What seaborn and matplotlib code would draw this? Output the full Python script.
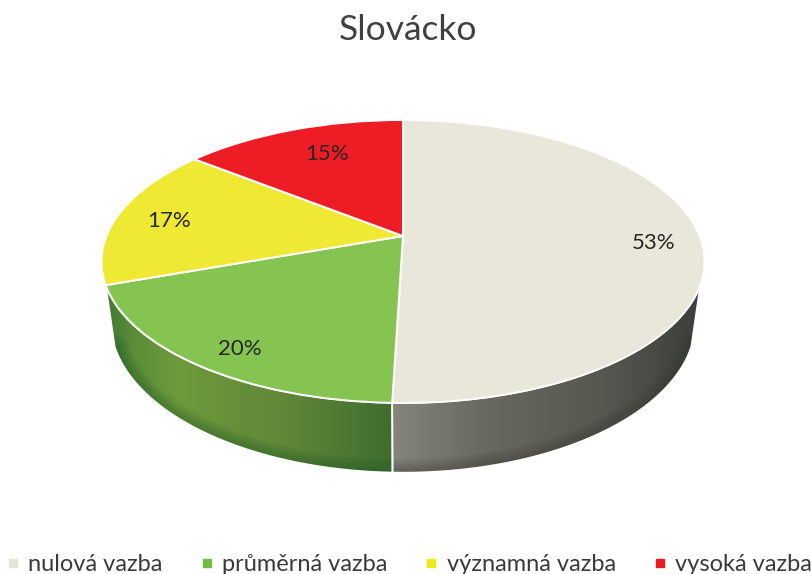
import numpy as np
import matplotlib
matplotlib.use('Agg')
import matplotlib.pyplot as plt
from matplotlib.colors import LinearSegmentedColormap
from matplotlib.lines import Line2D
from matplotlib.patches import Polygon
from matplotlib.transforms import Transform
import seaborn as sns

title = 'Slovácko'
categories = ['nulová vazba', 'průměrná vazba', 'významná vazba', 'vysoká vazba']
values = [53, 20, 17, 15]
colors = ['#e8e7da', '#85c451', '#efe933', '#ee1c25']
legend_colors = ['#e3e4d4', '#6fbf44', '#f0e817', '#ea1c24']
label_pos = [(654, 243), (240, 349), (169, 221), (327, 154)]

# look of the tilted disc, in pixels
cx, cy = 403, 236
tilt = 0.18
x_scale = 296.6
y_scale = 136.9


def project(xy):
    xy = np.asarray(xy, dtype=float)
    w = 1 + tilt * xy[:, 1]
    return np.column_stack([cx + x_scale * xy[:, 0] / w, cy - y_scale * xy[:, 1] / w])


class Tilted(Transform):
    input_dims = 2
    output_dims = 2
    is_affine = False

    def transform_non_affine(self, values):
        return project(values)


def rim(t1, t2, lower=False):
    t = np.radians(np.linspace(t1, t2, 80))
    pts = project(np.column_stack([np.cos(t), np.sin(t)]))
    if lower:
        pts[:, 0] = cx + (pts[:, 0] - cx) * 0.97
        pts[:, 1] = cy + (pts[:, 1] - cy) * 1.07 + 58
    return pts


def draw_wall(ax, t1, t2, stops, edge):
    top = rim(t1, t2)
    bottom = rim(t1, t2, lower=True)
    pts = np.vstack([top, bottom[::-1]])
    poly = Polygon(pts, closed=True, facecolor='none', edgecolor='white', linewidth=1.2, zorder=3)
    ax.add_patch(poly)
    cmap = LinearSegmentedColormap.from_list('wall', stops)
    grad = np.linspace(0, 1, 256).reshape(1, -1)
    x0, x1 = pts[:, 0].min(), pts[:, 0].max()
    img = ax.imshow(grad, cmap=cmap, extent=(x0, x1, pts[:, 1].max(), pts[:, 1].min()),
                    aspect='auto', zorder=2)
    img.set_clip_path(poly)
    # darker band along the lower rim
    for lw in np.arange(2, 22, 2):
        line, = ax.plot(bottom[:, 0], bottom[:, 1], color=edge, linewidth=lw, alpha=0.05, zorder=2.5)
        line.set_clip_path(poly)


sns.set_theme(style='white')
plt.rcParams['font.family'] = ['Lato', 'DejaVu Sans']

fig = plt.figure(figsize=(8.12, 5.74), dpi=100)
ax = fig.add_axes([0, 0, 1, 1])
wedges, _ = ax.pie(values, colors=sns.color_palette(colors), startangle=90, counterclock=False,
                   wedgeprops={'edgecolor': 'white', 'linewidth': 1.4})
tilted = Tilted() + ax.transData
for w in wedges:
    w.set_transform(tilted)
    w.set_zorder(4)

draw_wall(ax, wedges[0].theta1, -19.7,
          [(0, '#85857d'), (0.3, '#69695f'), (0.7, '#55564f'), (1, '#3c3e39')], '#3a3a36')
draw_wall(ax, wedges[1].theta1, wedges[1].theta2,
          [(0, '#3f7a34'), (0.1, '#5d8d38'), (0.25, '#6f9a3c'), (0.65, '#5f8638'), (1, '#3f6d30')], '#1f5a2c')

ax.set_aspect('auto')
ax.set_xlim(0, 812)
ax.set_ylim(574, 0)
ax.axis('off')

for v, (x, y) in zip(values, label_pos):
    ax.text(x, y, f'{v}%', ha='center', va='center', fontsize=16, color='#262626', zorder=5)

ax.text(408, 30, title, ha='center', va='center', fontsize=25.5, color='#404040')

handles = [Line2D([], [], linestyle='none', marker='s', markersize=5.5, color=c) for c in legend_colors]
fig.legend(handles, categories, loc='lower left', bbox_to_anchor=(0.0055, -0.002), ncol=4, frameon=False,
           fontsize=17, labelcolor='#3a3a3a', handlelength=0.7, handletextpad=0.3,
           columnspacing=1.52, borderaxespad=0, borderpad=0.0)

plt.savefig('out.png', dpi=100)
